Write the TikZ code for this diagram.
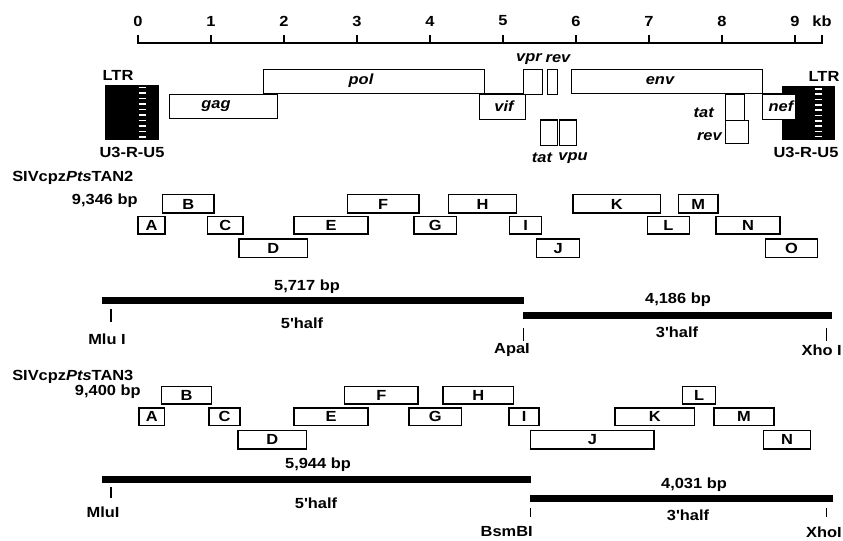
\documentclass[tikz,border=0pt]{standalone}
\usepackage{fontspec}
\newfontfamily\hv{Liberation Sans}[FakeStretch=1.12]
\newcommand\mkbox[7][]{\node[box,#1,minimum width={(#4-#3)*0.75pt},minimum height={(#6-#5)*0.75pt},anchor=north west] (#2) at (#3,#5) {#7};}
\newcommand\aps{'}
\begin{document}
\begin{tikzpicture}[x=0.75pt,y=-0.75pt,
  font=\hv\fontsize{11}{13}\selectfont\bfseries,
  box/.style={draw, line width=1.1pt, inner sep=0pt, fill=white},
  bar/.style={fill=black, draw=none, line width=0pt},
  ltr/.style={fill=black, draw=none},
  lbl/.style={inner sep=0pt},
  tk/.style={line width=1.1pt},
  dsh/.style={white, line width=1.2pt}]
\useasboundingbox (0,0) rectangle (843,541);
% axis
\coordinate (ax0) at (138,43);
\coordinate (axE) at (821.7,43);
\draw[line width=1.2pt] (138,35) -- (ax0) -- (axE) -- (821.7,35);
\foreach \k in {1,...,9} \draw[line width=1.2pt] ({138+73*\k},43) -- ({138+73*\k},35);
\foreach \k in {0,...,9} \node[lbl] (n\k) at ({138+73*\k},21) {\k};
\node[lbl] (kb) at (822,21) {kb};
% LTRs
\mkbox[ltr]{ltrL}{104}{158}{84}{139}{}
\foreach \i in {0,...,9} \draw[dsh] (138.5,{87.5+5.5*\i}) -- (145.5,{87.5+5.5*\i});
\mkbox[ltr]{ltrR}{781}{834}{85}{139}{}
\foreach \i in {0,...,9} \draw[dsh] (814.5,{89+5.3*\i}) -- (821.5,{89+5.3*\i});
\node[lbl] (ltrLt) at (118,75) {LTR};
\node[lbl] (u3L) at (132,152) {U3-R-U5};
\node[lbl] (ltrRt) at (824,76) {LTR};
\node[lbl] (u3R) at (806,152) {U3-R-U5};
% genes
\mkbox{pol}{263}{484}{69}{93}{}
\mkbox{gag}{169}{277}{94}{118}{}
\mkbox{vif}{478.5}{525}{93.5}{119}{}
\mkbox{vpr}{522.5}{542}{69}{94}{}
\mkbox{revA}{547}{557}{69}{94}{}
\mkbox{env}{571}{762}{69}{93}{}
\mkbox{tatA}{540}{557}{119.5}{145}{}
\mkbox{vpu}{559}{576}{119.5}{145}{}
\mkbox{tatB}{725}{744}{94}{120}{}
\mkbox{revB}{725}{747.5}{120}{143}{}
\mkbox{nef}{762}{795}{93.5}{119}{}
\node[lbl] (gagt) at (216,106) {\itshape gag};
\node[lbl] (polt) at (361,81) {\itshape pol};
\node[lbl] (envt) at (660,81) {\itshape env};
\node[lbl] (vift) at (504,106) {\itshape vif};
\node[lbl] (neft) at (781,106) {\itshape nef};
\node[lbl] (vprt) at (529,59) {\itshape vpr};
\node[lbl] (revAt) at (558,59) {\itshape rev};
\node[lbl] (tatAt) at (542,158) {\itshape tat};
\node[lbl] (vput) at (573,158) {\itshape vpu};
\node[lbl,anchor=east] (tatBt) at (714,113) {\itshape tat};
\node[lbl,anchor=east] (revBt) at (722,137) {\itshape rev};
% TAN2
\node[lbl,anchor=west] (tan2) at (12,178) {SIVcpz\textit{Pts}TAN2};
\node[lbl,anchor=east] (bp2) at (138,201) {9,346 bp};
\mkbox{aB}{161.7}{213.3}{194}{212.5}{B}
\mkbox{aF}{346.7}{418.3}{194}{212.5}{F}
\mkbox{aH}{447.7}{515.7}{194}{212.5}{H}
\mkbox{aK}{572.3}{660}{194}{212.5}{K}
\mkbox{aM}{677.7}{717.3}{194}{212.5}{M}
\mkbox{aA}{137.3}{164.3}{215.7}{233.3}{A}
\mkbox{aC}{206.7}{242.3}{215.7}{233.3}{C}
\mkbox{aE}{293.3}{367.3}{215.7}{233.3}{E}
\mkbox{aG}{413.3}{455.7}{215.7}{233.3}{G}
\mkbox{aI}{509}{540.7}{215.7}{233.3}{I}
\mkbox{aL}{646.7}{688.7}{215.7}{233.3}{L}
\mkbox{aN}{715.3}{779.3}{215.7}{233.3}{N}
\mkbox{aD}{238.3}{306.7}{238.3}{256.7}{D}
\mkbox{aJ}{536}{579}{238.3}{256.7}{J}
\mkbox{aO}{765}{816.7}{238.3}{256.7}{O}
\mkbox[bar]{h5a}{101.7}{524}{297.3}{304}{}
\mkbox[bar]{h3a}{522.7}{832.3}{312.3}{319}{}
\node[lbl] (t5a) at (307,287) {5,717 bp};
\node[lbl] (f5a) at (302,323) {5\aps half};
\node[lbl] (t3a) at (678,300) {4,186 bp};
\node[lbl] (f3a) at (677,332) {3\aps half};
\coordinate (m1a) at (111,309); \coordinate (m2a) at (111,322);
\draw[tk] (m1a) -- (m2a);
\coordinate (p1a) at (523.3,328); \coordinate (p2a) at (523.3,341);
\draw[tk] (p1a) -- (p2a);
\coordinate (x1a) at (826.7,328); \coordinate (x2a) at (826.7,341);
\draw[tk] (x1a) -- (x2a);
\node[lbl] (mlua) at (107,339) {Mlu I};
\node[lbl,anchor=east] (apa) at (530,350) {ApaI};
\node[lbl,anchor=east] (xhoa) at (842,350) {Xho I};
% TAN3
\node[lbl,anchor=west] (tan3) at (12,377) {SIVcpz\textit{Pts}TAN3};
\node[lbl,anchor=east] (bp3) at (141,392) {9,400 bp};
\mkbox{bB}{160.7}{210.7}{385.7}{403.3}{B}
\mkbox{bF}{344}{417.3}{385.7}{403.3}{F}
\mkbox{bH}{442.3}{512.7}{385.7}{403.3}{H}
\mkbox{bL}{681.7}{715}{385.7}{403.3}{L}
\mkbox{bA}{138.3}{164}{407.3}{425}{A}
\mkbox{bC}{208.3}{239.3}{407.3}{425}{C}
\mkbox{bE}{293.3}{367.3}{407.3}{425}{E}
\mkbox{bG}{408.3}{460.7}{407.3}{425}{G}
\mkbox{bI}{508.3}{538.3}{407.3}{425}{I}
\mkbox{bK}{614.3}{694}{407.3}{425}{K}
\mkbox{bM}{713.3}{773.3}{407.3}{425}{M}
\mkbox{bD}{237.3}{306}{430}{448.3}{D}
\mkbox{bJ}{530}{653.3}{430}{448.3}{J}
\mkbox{bN}{762.7}{810}{430}{448.3}{N}
\mkbox[bar]{h5b}{101.7}{530.7}{476}{482.7}{}
\mkbox[bar]{h3b}{530}{832.7}{495}{501.7}{}
\node[lbl] (t5b) at (318,465) {5,944 bp};
\node[lbl] (f5b) at (316,503) {5\aps half};
\node[lbl] (t3b) at (694,485) {4,031 bp};
\node[lbl] (f3b) at (688,515) {3\aps half};
\coordinate (m1b) at (111,487); \coordinate (m2b) at (111,498.5);
\draw[tk] (m1b) -- (m2b);
\coordinate (p1b) at (530.7,508); \coordinate (p2b) at (530.7,517);
\draw[tk] (p1b) -- (p2b);
\coordinate (x1b) at (826.7,508); \coordinate (x2b) at (826.7,517);
\draw[tk] (x1b) -- (x2b);
\node[lbl] (mlub) at (103,512) {MluI};
\node[lbl,anchor=east] (bsm) at (533,532) {BsmBI};
\node[lbl,anchor=east] (xhob) at (842,532) {XhoI};
\end{tikzpicture}
\end{document}
